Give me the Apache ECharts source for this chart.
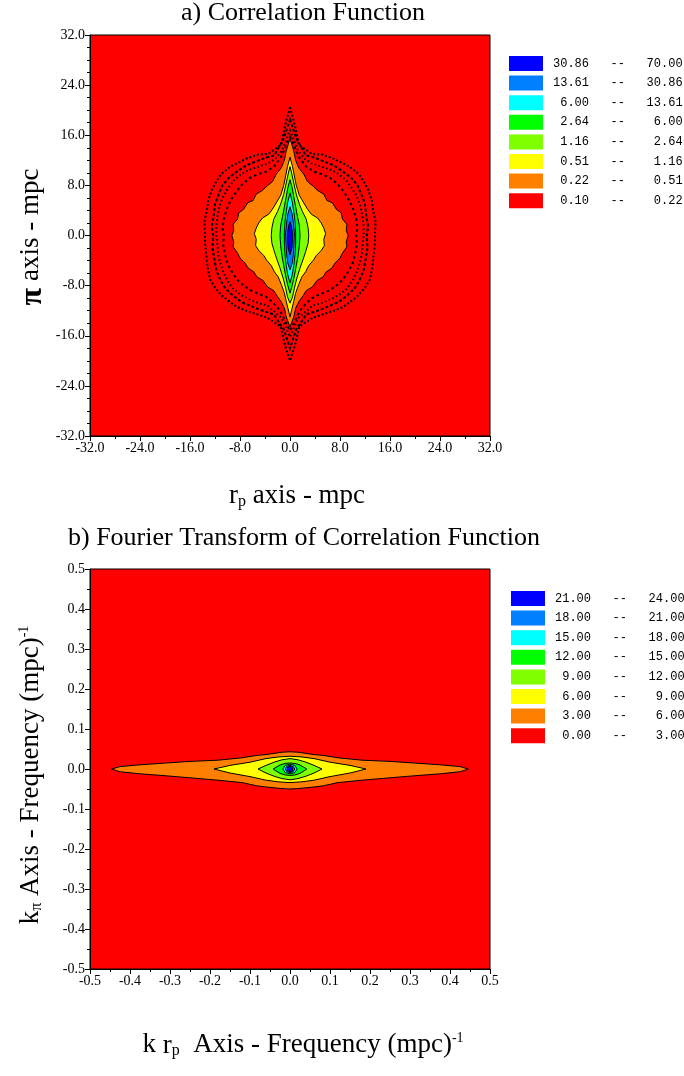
<!DOCTYPE html>
<html>
<head>
<meta charset="utf-8">
<script src="https://cdn.jsdelivr.net/npm/echarts@6/dist/echarts.min.js"></script>
<style>
html, body { margin: 0; padding: 0; background: #fff; }
#chart { width: 684px; height: 1076px; }
</style>
</head>
<body>
<div id="chart"></div>
<script>
// contour outlines, right half only, from top tip to bottom tip (data units)
// a) correlation function, levels 0.22 .. 30.86
var aOrange = [[0,15.5],[0.6,13.5],[0.9,12],[1.4,10.8],[2.2,9.8],[2.8,8.6],[3.8,7.8],[4.4,7.2],[5.4,6.6],[5.9,5.6],[6.8,5.2],[7.4,4.2],[8.2,3.6],[8.4,2.6],[9.1,1.8],[9.0,0.8],[9.3,0],[9.0,-1],[9.1,-1.8],[8.4,-2.8],[8.0,-3.6],[7.2,-4.4],[6.7,-5.2],[5.8,-5.8],[5.3,-6.6],[4.3,-7.2],[3.6,-8.2],[2.6,-8.8],[2.1,-9.6],[1.4,-10.6],[0.9,-11.6],[0.6,-13],[0,-14.6]];
var aYellow = [[0,12.5],[0.4,11],[0.7,9.5],[1.0,8],[1.5,6.4],[2.2,5.2],[2.8,4.2],[3.4,3.4],[4.4,2.8],[5.0,2.0],[5.4,1.2],[5.7,0.3],[5.4,-0.6],[5.5,-1.6],[5.0,-2.4],[4.2,-3.2],[3.7,-4.0],[3.0,-4.8],[2.5,-5.8],[1.9,-6.6],[1.4,-7.8],[0.9,-9.2],[0.6,-10.5],[0,-13]];
var aLime = [[0,11],[0.3,9.8],[0.6,8.4],[1.0,6.6],[1.5,5.0],[2.0,3.8],[2.6,2.6],[2.9,1.2],[3.0,0],[2.9,-1.2],[2.5,-2.6],[2.1,-3.8],[1.6,-5.2],[1.1,-6.8],[0.7,-8.4],[0.4,-9.8],[0,-10.8]];
var aGreen = [[0,8.9],[0.35,7.6],[0.6,6.2],[0.9,4.6],[1.2,3.0],[1.5,1.6],[1.6,0],[1.5,-1.6],[1.3,-3.2],[1.0,-4.8],[0.7,-6.4],[0.4,-7.8],[0,-9.2]];
var aCyan = [[0,6.8],[0.35,5.4],[0.6,3.8],[0.8,2.2],[0.9,0.5],[0.9,-1.2],[0.8,-3.0],[0.6,-4.8],[0.35,-6.3],[0,-7.6]];
var aAzure = [[0,4.6],[0.35,3.4],[0.55,2.0],[0.7,0.4],[0.65,-1.4],[0.55,-3.0],[0.35,-4.4],[0,-5.5]];
var aBlue = [[0,2.2],[0.25,1.4],[0.37,0.4],[0.37,-1.0],[0.3,-2.0],[0,-3.1]];
var aShapes = [aOrange, aYellow, aLime, aGreen, aCyan, aAzure, aBlue];
var aLevels = [0.3, 0.8, 2, 4, 10, 20, 50];

// noisy 0.10 contour band around the core
var aNoise1 = [[0,20.5],[0.8,17.5],[1.4,14.5],[3.5,13],[5.2,12.9],[6.9,12.3],[8.3,11.6],[9.5,11],[11,9.8],[11.8,8.6],[12.5,7.3],[13.1,5.6],[13.3,4],[13.7,2.2],[13.6,0.5],[13.6,-1.2],[13.4,-3],[13.2,-5],[12.8,-7],[12.0,-8.3],[11,-9.5],[9.9,-10.4],[8.5,-11.4],[7.0,-12.0],[5.5,-12.5],[3.7,-13.1],[1.5,-14.5],[0.8,-17.5],[0,-20]];
var aNoise2 = [[0,18.5],[1,15.5],[2.5,12.8],[4.0,12.4],[5.5,11.8],[7.0,11.2],[8.5,10.2],[9.8,9.2],[10.8,8],[11.4,6.6],[12,5],[12.2,3.2],[12.5,1.5],[12.3,0],[12.4,-2],[12.1,-3.8],[11.8,-5.5],[11.1,-7.2],[10.3,-8.5],[9.1,-9.6],[7.8,-10.6],[6.4,-11.2],[5,-11.8],[2.6,-12.6],[1,-15],[0,-18]];
var aNoise3 = [[0,16.8],[1.3,13.5],[2.4,12.2],[3.5,11.5],[5.0,11.0],[6.5,10.5],[7.8,9.8],[9,8.8],[10,7.4],[10.8,6],[11.3,4.6],[11.6,3],[11.8,1.4],[11.8,0],[11.6,-1.6],[11.5,-3],[11.1,-4.6],[10.6,-6],[9.9,-7.4],[9,-8.6],[7.8,-9.5],[6.5,-10.2],[5.0,-10.8],[3.6,-11.2],[1.3,-13.2],[0,-16.2]];
var aNoise4 = [[0,15.8],[1.5,12.4],[2.6,11.0],[3.8,10.2],[5.1,9.8],[6.4,9.2],[7.6,8.2],[8.6,7],[9.5,5.6],[10.2,4],[10.6,2.6],[10.8,1.2],[10.6,0],[10.7,-1.5],[10.4,-3.0],[10,-4.5],[9.3,-5.8],[8.5,-7],[7.4,-8.0],[6.2,-8.8],[5.0,-9.3],[3.8,-9.8],[2.6,-10.8],[1.6,-12],[0,-15.2]];
var aNoise = [aNoise1, aNoise2, aNoise3, aNoise4];

// b) fourier transform, levels 3 .. 21
var bOrange = [[0,0.043],[0.02,0.042],[0.04,0.039],[0.06,0.036],[0.083,0.034],[0.12,0.028],[0.18,0.022],[0.25,0.019],[0.31,0.015],[0.375,0.0105],[0.425,0.006],[0.446,0],[0.425,-0.007],[0.375,-0.012],[0.31,-0.017],[0.25,-0.022],[0.18,-0.028],[0.12,-0.034],[0.083,-0.042],[0.06,-0.045],[0.04,-0.047],[0.02,-0.049],[0,-0.05]];
var bYellow = [[0,0.032],[0.03,0.03],[0.06,0.026],[0.1,0.017],[0.15,0.009],[0.19,0],[0.15,-0.01],[0.1,-0.019],[0.06,-0.028],[0.03,-0.032],[0,-0.034]];
var bLime = [[0,0.026],[0.02,0.023],[0.04,0.017],[0.06,0.009],[0.08,0],[0.06,-0.01],[0.04,-0.018],[0.02,-0.024],[0,-0.027]];
var bGreen = [[0,0.015],[0.012,0.014],[0.025,0.01],[0.042,0],[0.025,-0.011],[0.012,-0.015],[0,-0.016]];
var bCyan = [[0,0.012],[0.012,0.009],[0.018,0],[0.012,-0.009],[0,-0.012]];
var bAzure = [[0,0.009],[0.008,0.0065],[0.012,0],[0.008,-0.0065],[0,-0.009]];
var bBlue = [[0,0.0065],[0.005,0.005],[0.007,0],[0.005,-0.005],[0,-0.0065]];
var bShapes = [bOrange, bYellow, bLime, bGreen, bCyan, bAzure, bBlue];
var bLevels = [4.5, 7.5, 10.5, 13.5, 16.5, 19.5, 22.5];

// legend bands
var aBreaks = [0.10, 0.22, 0.51, 1.16, 2.64, 6.00, 13.61, 30.86, 70.00];
var bBreaks = [0.00, 3.00, 6.00, 9.00, 12.00, 15.00, 18.00, 21.00, 24.00];
var bandColors = ['#ff0000', '#ff8000', '#ffff00', '#80ff00', '#00ff00', '#00ffff', '#0080ff', '#0000ff'];

var SERIF = '"Liberation Serif", "Times New Roman", serif';
var MONO = '"Liberation Mono", "Courier New", monospace';

function pad5(v) {
    var s = v.toFixed(2);
    while (s.length < 5) s = ' ' + s;
    return s;
}
function makePieces(breaks) {
    var out = [];
    for (var i = 0; i < breaks.length - 1; i++) {
        out.push({
            min: breaks[i], max: breaks[i + 1],
            label: pad5(breaks[i]) + '   --   ' + pad5(breaks[i + 1]),
            color: bandColors[i]
        });
    }
    return out;
}
function mirror(half) {
    var left = half.slice().reverse().map(function (p) { return [-p[0], p[1]]; });
    return half.concat(left);
}
function contourRenderer(shapes) {
    return function (params, api) {
        var pts = mirror(shapes[api.value(1)]).map(function (p) { return api.coord(p); });
        return {
            type: 'polygon',
            shape: { points: pts },
            style: { fill: api.visual('color'), stroke: '#000', lineWidth: 1 }
        };
    };
}
var noiseDash = [[2, 2], [3, 2], [1.5, 2.5], [2.5, 3]];
function noiseRenderer(params, api) {
    var i = api.value(0);
    var pts = mirror(aNoise[i]).map(function (p) { return api.coord(p); });
    return {
        type: 'polygon',
        shape: { points: pts },
        style: { fill: null, stroke: '#000', lineWidth: 2, lineDash: noiseDash[i] }
    };
}
function fmt1(v) { return v.toFixed(1); }
function axisStyle(extra) {
    var base = {
        type: 'value',
        axisLine: { onZero: false, lineStyle: { color: '#000', width: 1 } },
        axisTick: { length: 5, lineStyle: { color: '#000' } },
        minorTick: { show: true, length: 3, lineStyle: { color: '#000' } },
        splitLine: { show: false },
        axisLabel: { formatter: fmt1, color: '#000', fontFamily: SERIF, fontSize: 14, margin: 5 }
    };
    for (var k in extra) base[k] = extra[k];
    return base;
}

var chart = echarts.init(document.getElementById('chart'));

var mainText = { fontSize: 27, fontFamily: SERIF, lineHeight: 28, verticalAlign: 'top', color: '#000' };
var subText = { fontSize: 16, fontFamily: SERIF, lineHeight: 11, verticalAlign: 'bottom', color: '#000' };
var supText = { fontSize: 14, fontFamily: SERIF, lineHeight: 8, verticalAlign: 'top', color: '#000' };

var option = {
    animation: false,
    backgroundColor: '#fff',
    grid: [
        { left: 90, top: 35, width: 400, height: 401, show: true, backgroundColor: '#ff0000', borderColor: '#000', borderWidth: 1 },
        { left: 90, top: 569, width: 400, height: 400, show: true, backgroundColor: '#ff0000', borderColor: '#000', borderWidth: 1 }
    ],
    xAxis: [
        axisStyle({ gridIndex: 0, min: -32, max: 32, interval: 8, minorTick: { show: true, splitNumber: 2, length: 3, lineStyle: { color: '#000' } } }),
        axisStyle({ gridIndex: 1, min: -0.5, max: 0.5, interval: 0.1, minorTick: { show: true, splitNumber: 2, length: 3, lineStyle: { color: '#000' } } })
    ],
    yAxis: [
        axisStyle({ gridIndex: 0, min: -32, max: 32, interval: 8, minorTick: { show: true, splitNumber: 4, length: 3, lineStyle: { color: '#000' } } }),
        axisStyle({ gridIndex: 1, min: -0.5, max: 0.5, interval: 0.1, minorTick: { show: true, splitNumber: 2, length: 3, lineStyle: { color: '#000' } } })
    ],
    visualMap: [
        {
            type: 'piecewise', seriesIndex: 0, dimension: 0,
            left: 494, top: 41, orient: 'vertical', align: 'left',
            itemWidth: 34, itemHeight: 15, itemGap: 4.6, itemSymbol: 'rect', textGap: 10,
            selectedMode: false, hoverLink: false,
            textStyle: { fontFamily: MONO, fontSize: 12, color: '#000' },
            pieces: makePieces(aBreaks)
        },
        {
            type: 'piecewise', seriesIndex: 2, dimension: 0,
            left: 496, top: 576, orient: 'vertical', align: 'left',
            itemWidth: 34, itemHeight: 15, itemGap: 4.6, itemSymbol: 'rect', textGap: 10,
            selectedMode: false, hoverLink: false,
            textStyle: { fontFamily: MONO, fontSize: 12, color: '#000' },
            pieces: makePieces(bBreaks)
        }
    ],
    series: [
        {
            type: 'custom', xAxisIndex: 0, yAxisIndex: 0, clip: true,
            renderItem: contourRenderer(aShapes),
            data: aLevels.map(function (lv, i) { return [lv, i]; }),
            z: 2
        },
        {
            type: 'custom', xAxisIndex: 0, yAxisIndex: 0, clip: true,
            renderItem: noiseRenderer,
            data: aNoise.map(function (r, i) { return [i]; }),
            z: 3
        },
        {
            type: 'custom', xAxisIndex: 1, yAxisIndex: 1, clip: true,
            renderItem: contourRenderer(bShapes),
            data: bLevels.map(function (lv, i) { return [lv, i]; }),
            z: 2
        }
    ],
    graphic: [
        { type: 'text', x: 303, y: 13, style: { text: 'a) Correlation Function', font: '26px ' + SERIF, fill: '#000', align: 'center', verticalAlign: 'middle' } },
        { type: 'text', x: 304, y: 538, style: { text: 'b) Fourier Transform of Correlation Function', font: '26px ' + SERIF, fill: '#000', align: 'center', verticalAlign: 'middle' } },
        {
            type: 'text', x: 31, y: 237, rotation: Math.PI / 2,
            style: {
                text: '{pi|π}{m| axis - mpc}', align: 'center', verticalAlign: 'middle',
                rich: { pi: { fontSize: 32, fontWeight: 'bold', fontFamily: SERIF, lineHeight: 28, verticalAlign: 'top', color: '#000' }, m: mainText }
            }
        },
        {
            type: 'text', x: 297, y: 496,
            style: { text: '{m|r}{s|p}{m| axis - mpc}', align: 'center', verticalAlign: 'middle', rich: { m: mainText, s: subText } }
        },
        {
            type: 'text', x: 31, y: 775, rotation: Math.PI / 2,
            style: { text: '{m|k}{s|π}{m| Axis - Frequency (mpc)}{sup|-1}', align: 'center', verticalAlign: 'middle', rich: { m: mainText, s: subText, sup: supText } }
        },
        {
            type: 'text', x: 303, y: 1045,
            style: {
                text: '{m|k }{r|r}{s|p}{m|  Axis - Frequency (mpc)}{sup|-1}', align: 'center', verticalAlign: 'middle',
                rich: {
                    m: mainText, sup: supText,
                    r: { fontSize: 27, fontFamily: SERIF, lineHeight: 18, verticalAlign: 'bottom', color: '#000' },
                    s: { fontSize: 16, fontFamily: SERIF, lineHeight: 4, verticalAlign: 'bottom', color: '#000' }
                }
            }
        }
    ]
};
chart.setOption(option);
</script>
</body>
</html>
